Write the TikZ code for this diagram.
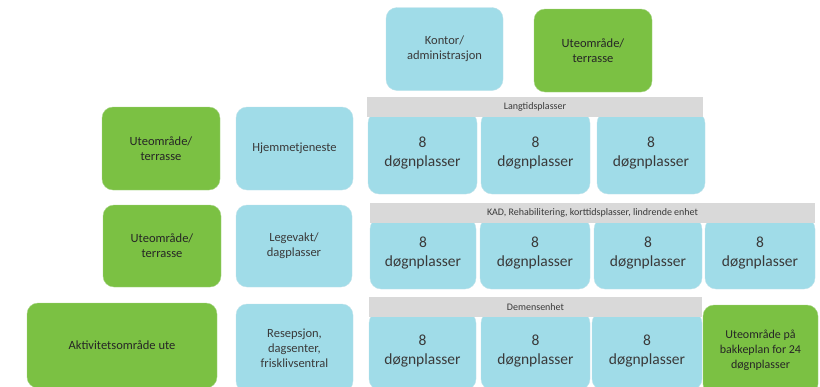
\documentclass[tikz,border=0pt]{standalone}
\usepackage{fontspec}
\setmainfont{Carlito}
\usepackage{tikz}
\definecolor{blueroom}{HTML}{A0DCE8}
\definecolor{blueedge}{HTML}{BFE2EA}
\definecolor{greenarea}{HTML}{7BC143}
\definecolor{greenedge}{HTML}{A6D386}
\definecolor{greybar}{HTML}{D9D9D9}
\definecolor{textgrey}{HTML}{3A3A3A}
\tikzset{
  roombox/.style={draw=blueedge,fill=blueroom,rounded corners=11pt,align=center,
    text=textgrey,inner sep=2pt,font=\fontsize{12.5}{15}\selectfont},
  areabox/.style={roombox,draw=greenedge,fill=greenarea,text=black!85},
  placebox/.style={roombox,font=\fontsize{15.5}{19}\selectfont},
  barbox/.style={fill=greybar,text=textgrey,inner sep=0pt,minimum height=20,
    font=\fontsize{10}{12}\selectfont}
}

\begin{document}
\begin{tikzpicture}[x=1pt,y=-1pt]
  \useasboundingbox (0,0) rectangle (820,386);
  \clip (0,0) rectangle (820,386);
  % top
  \node[roombox,minimum width=117,minimum height=83] (kontor) at (444.5,49) {Kontor/\\administrasjon};
  \node[areabox,minimum width=118,minimum height=83] (utetopp) at (593,50.5) {Uteområde/\\terrasse};
  % left columns
  \node[areabox,minimum width=118,minimum height=83] (ute1) at (161,148.5) {Uteområde/\\terrasse};
  \node[roombox,minimum width=117,minimum height=83] (hjem) at (294.5,148.5) {Hjemmetjeneste};
  \node[areabox,minimum width=118,minimum height=82] (ute2) at (162,246) {Uteområde/\\terrasse};
  \node[roombox,minimum width=116,minimum height=82] (legevakt) at (294,246) {Legevakt/\\dagplasser};
  \node[areabox,minimum width=190,minimum height=85] (aktiv) at (122,345.5) {Aktivitetsområde ute};
  \node[roombox,minimum width=117,minimum height=88] (resepsjon) at (294.5,348) {Resepsjon,\\dagsenter,\\frisklivsentral};
  % units
  \foreach \n/\x/\w in {a/422.5/109,b/535.5/109,c/651/108}
    \node[placebox,minimum width=\w,minimum height=82] (lang\n) at (\x,153) {8\\døgnplasser};
  \foreach \n/\x/\w in {a/423/106,b/535/110,c/648/108,d/760/110}
    \node[placebox,minimum width=\w,minimum height=71] (kad\n) at (\x,253.5) {8\\døgnplasser};
  \foreach \n/\x/\w in {a/422.5/107,b/535.5/109,c/647/110}
    \node[placebox,minimum width=\w,minimum height=78] (dem\n) at (\x,351) {8\\døgnplasser};
  \node[areabox,minimum width=115,minimum height=90,font=\fontsize{12}{15}\selectfont] (utebakke) at (760.5,350)
    {Uteområde på\\bakkeplan for 24\\døgnplasser};
  % bars
  \node[barbox,minimum width=336] (langbar) at (535,107) {Langtidsplasser};
  \node[barbox,minimum width=445] (kadbar) at (592.5,213) {KAD, Rehabilitering, korttidsplasser, lindrende enhet};
  \node[barbox,minimum width=333] (dembar) at (535.5,307) {Demensenhet};
\end{tikzpicture}
\end{document}
